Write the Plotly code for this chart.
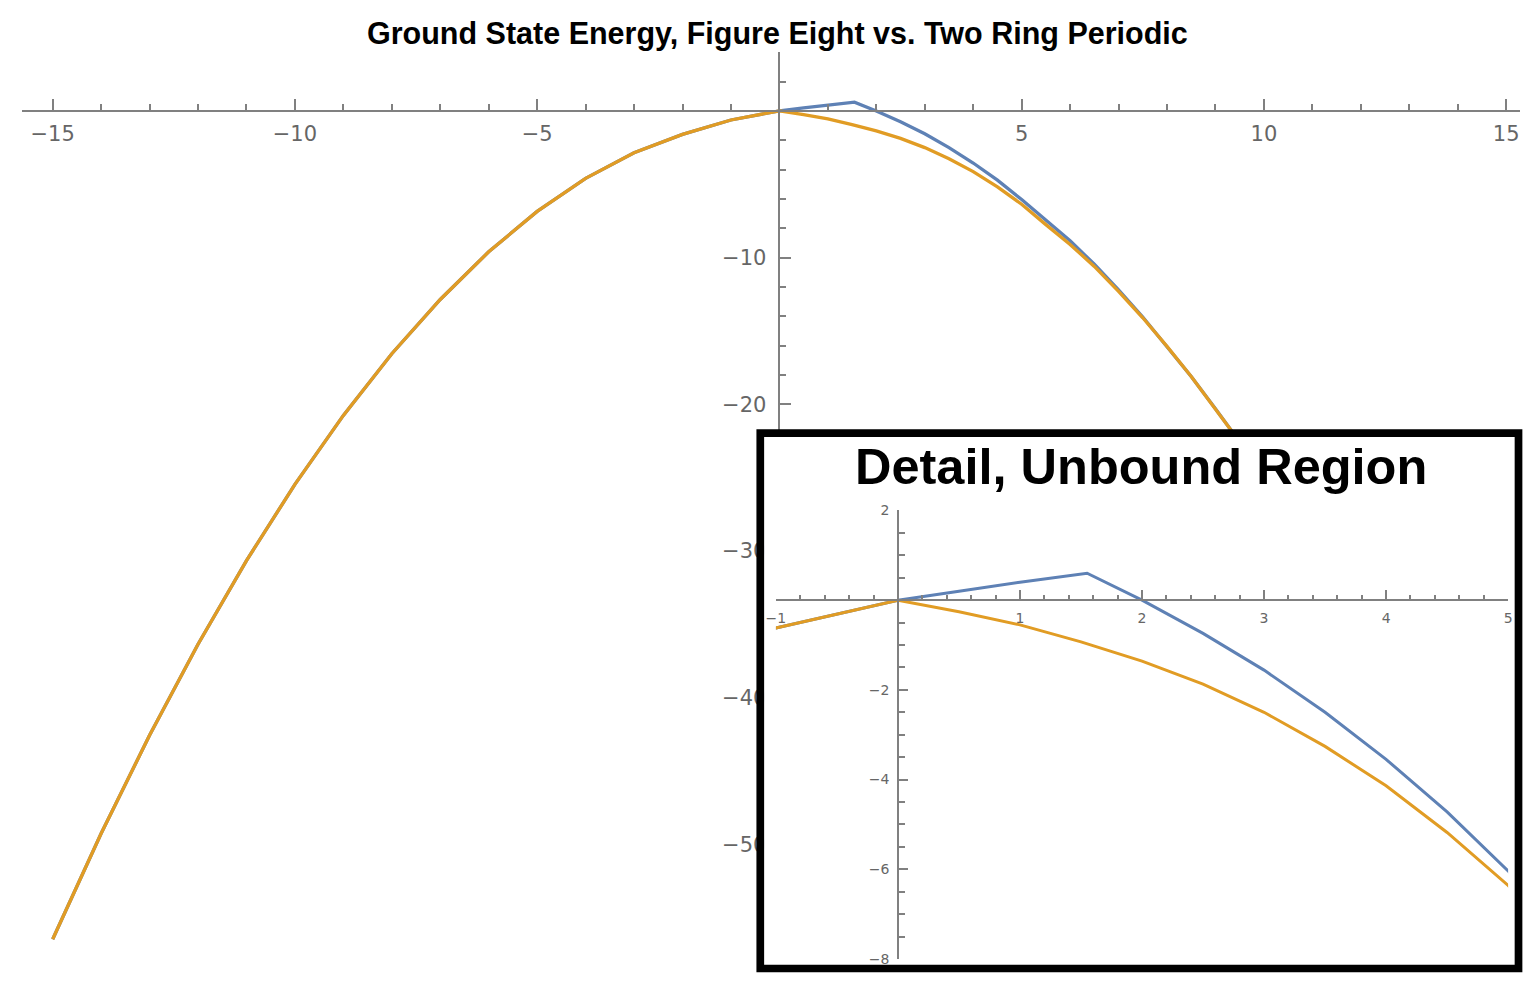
import plotly.graph_objects as go

# ---------------- data ----------------
blue_x = [-15, -14, -13, -12, -11, -10, -9, -8, -7, -6, -5, -4, -3, -2, -1,
          0.0, 0.5, 1.0, 1.55, 2.0, 2.5, 3.0, 3.5, 4.0, 4.5, 5.0, 5.5, 6.0, 6.5, 7.0, 7.5,
          8.0, 8.5, 9.0, 9.4]
blue_y = [-56.45, -49.25, -42.55, -36.35, -30.65, -25.45, -20.75, -16.55, -12.85, -9.6, -6.85, -4.6, -2.85, -1.6, -0.62,
          0.0, 0.2, 0.4, 0.6, 0.0, -0.74, -1.56, -2.50, -3.55, -4.72, -6.04, -7.45, -8.85, -10.45, -12.2, -14.05,
          -16.05, -18.1, -20.3, -22.1]

orange_x = [-15, -14, -13, -12, -11, -10, -9, -8, -7, -6, -5, -4, -3, -2, -1,
            0.0, 0.5, 1.0, 1.5, 2.0, 2.5, 3.0, 3.5, 4.0, 4.5, 5.0, 5.5, 6.0, 6.5, 7.0, 7.5,
            8.0, 8.5, 9.0, 9.4]
orange_y = [-56.45, -49.25, -42.55, -36.35, -30.65, -25.45, -20.75, -16.55, -12.85, -9.6, -6.85, -4.6, -2.85, -1.6, -0.62,
            0.0, -0.26, -0.55, -0.93, -1.36, -1.87, -2.50, -3.26, -4.14, -5.18, -6.36, -7.75, -9.1, -10.6, -12.3, -14.1,
            -16.05, -18.1, -20.3, -22.1]

main_xticks = [-15, -10, -5, 5, 10, 15]
main_yticks = [-50, -40, -30, -20, -10]
inset_xticks = [-1, 1, 2, 3, 4, 5]
inset_yticks = [-8, -6, -4, -2, 2]

main_title = "Ground State Energy, Figure Eight vs. Two Ring Periodic"
inset_title = "Detail, Unbound Region"

# ---------------- styling ----------------
PAGE_OFF = 8            # default body margin of the page
W, H = 1532 - 2 * PAGE_OFF, 983 - 2 * PAGE_OFF
BLUE = "#5E81B5"
ORANGE = "#E19C24"
AX = "#808080"
LBL = "#666666"
TICKFONT = "DejaVu Sans"
TITLEFONT = "Liberation Sans, Arial, sans-serif"


def px_x(p):
    """page pixel (x) -> paper fraction"""
    return (p - PAGE_OFF) / W


def px_y(p):
    """page pixel (y) -> paper fraction"""
    return (H - (p - PAGE_OFF)) / H


fig = go.Figure()

# main plot
fig.add_trace(go.Scatter(x=blue_x, y=blue_y, mode="lines", line=dict(color=BLUE, width=3.3),
                         xaxis="x", yaxis="y", showlegend=False, hoverinfo="skip"))
fig.add_trace(go.Scatter(x=orange_x, y=orange_y, mode="lines", line=dict(color=ORANGE, width=3.3),
                         xaxis="x", yaxis="y", showlegend=False, hoverinfo="skip"))
# white cover for the inset panel
fig.add_trace(go.Scatter(x=[], y=[], xaxis="x2", yaxis="y2", showlegend=False, hoverinfo="skip"))
# inset plot
fig.add_trace(go.Scatter(x=blue_x, y=blue_y, mode="lines", line=dict(color=BLUE, width=3),
                         xaxis="x3", yaxis="y3", showlegend=False, hoverinfo="skip"))
fig.add_trace(go.Scatter(x=orange_x, y=orange_y, mode="lines", line=dict(color=ORANGE, width=3),
                         xaxis="x3", yaxis="y3", showlegend=False, hoverinfo="skip"))

# main axes geometry (page pixels)
x0_px, x_scale = 776.5, 48.9
y0_px, y_scale = 104.5, 14.92
mx_left, mx_right = 12, PAGE_OFF + W
my_top, my_bot = 45, PAGE_OFF + H

common = dict(showgrid=False, zeroline=False, showline=True, linecolor=AX, linewidth=1.5,
              ticks="inside", tickcolor=AX, tickwidth=1.5)

fig.update_layout(
    width=W, height=H,
    margin=dict(l=0, r=0, t=0, b=0),
    paper_bgcolor="white", plot_bgcolor="white",
    xaxis=dict(**common,
               domain=[px_x(mx_left), px_x(mx_right)],
               range=[(mx_left - x0_px) / x_scale, (mx_right - x0_px) / x_scale],
               anchor="free", position=px_y(y0_px), side="bottom",
               tickmode="array", tickvals=main_xticks, ticklen=11,
               tickfont=dict(family=TICKFONT, size=21, color=LBL), ticklabelstandoff=4,
               minor=dict(tickmode="linear", tick0=0, dtick=1, ticklen=6, tickcolor=AX, tickwidth=1.5,
                          ticks="inside")),
    yaxis=dict(**common,
               domain=[px_y(my_bot), px_y(my_top)],
               range=[(y0_px - my_bot) / y_scale, (y0_px - my_top) / y_scale],
               anchor="free", position=px_x(x0_px), side="left",
               tickmode="array", tickvals=main_yticks, ticklen=11,
               tickfont=dict(family=TICKFONT, size=21, color=LBL), ticklabelstandoff=8,
               minor=dict(tickmode="linear", tick0=0, dtick=2, ticklen=6, tickcolor=AX, tickwidth=1.5,
                          ticks="inside")),
    # cover panel (interior of the inset frame)
    xaxis2=dict(visible=False, domain=[px_x(761), px_x(1518.5)], range=[0, 1], anchor="y2"),
    yaxis2=dict(visible=False, domain=[px_y(PAGE_OFF + H), px_y(436)], range=[0, 1], anchor="x2"),
)

# inset axes geometry (page pixels)
ix_left, ix_right = 773, 1512
iy_top, iy_bot = 510.8, 966.8
ix0 = ix_left + (0 - (-1)) * (ix_right - ix_left) / 6.0
iy0 = iy_top + (2 - 0) * (iy_bot - iy_top) / 10.0

fig.update_layout(
    xaxis3=dict(**common,
                domain=[px_x(ix_left), px_x(ix_right)], range=[-1, 5],
                anchor="free", position=px_y(iy0), side="bottom",
                tickmode="array", tickvals=inset_xticks, ticklen=9,
                tickfont=dict(family=TICKFONT, size=14, color=LBL), ticklabelstandoff=5,
                minor=dict(tickmode="linear", tick0=0, dtick=0.2, ticklen=4.5, tickcolor=AX, tickwidth=1.5,
                           ticks="inside")),
    yaxis3=dict(**common,
                domain=[px_y(iy_bot), px_y(iy_top)], range=[-8, 2],
                anchor="free", position=px_x(ix0), side="left",
                tickmode="array", tickvals=inset_yticks, ticklen=9,
                tickfont=dict(family=TICKFONT, size=14, color=LBL), ticklabelstandoff=5,
                minor=dict(tickmode="linear", tick0=0, dtick=0.5, ticklen=6, tickcolor=AX, tickwidth=1.5,
                           ticks="inside")),
)

# inset frame
fig.add_shape(type="rect", xref="paper", yref="paper",
              x0=px_x(757.2), x1=px_x(1522.5), y0=px_y(976.5), y1=px_y(432.2),
              line=dict(color="black", width=7.7), fillcolor="rgba(0,0,0,0)", layer="above")

# titles
fig.add_annotation(xref="paper", yref="paper", x=px_x(775), y=px_y(26),
                   xanchor="center", yanchor="middle", showarrow=False, text=main_title,
                   font=dict(family=TITLEFONT, size=30.5, color="black", weight="bold"))
fig.add_annotation(xref="paper", yref="paper", x=px_x(1141), y=px_y(466.5),
                   xanchor="center", yanchor="middle", showarrow=False, text=inset_title,
                   font=dict(family=TITLEFONT, size=50.5, color="black", weight="bold"))

fig.write_html("out.html", include_plotlyjs=True, config={"displayModeBar": False})
